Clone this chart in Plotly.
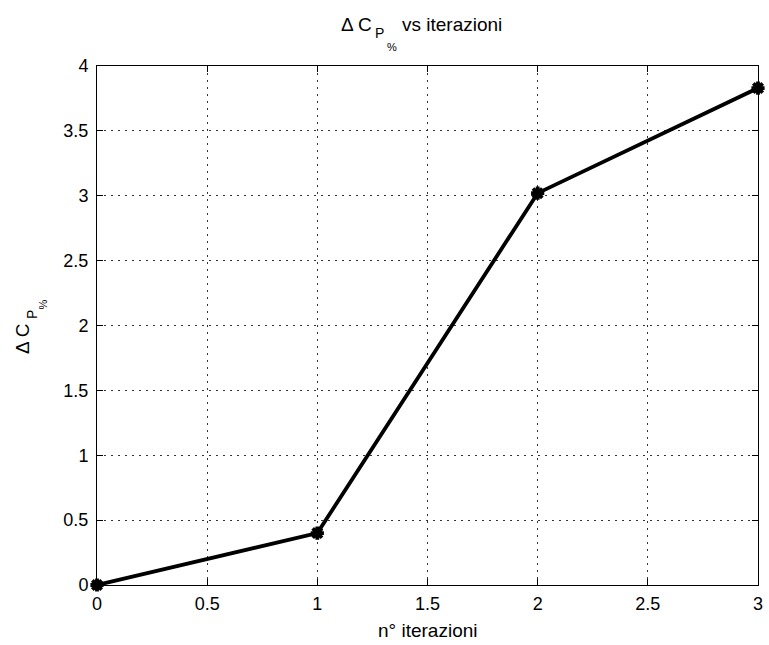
import plotly.graph_objects as go

# convergence of the power coefficient gain over iterations
iterations = [0, 1, 2, 3]
delta_cp = [0.0, 0.40, 3.02, 3.83]

x_ticks = [0, 0.5, 1, 1.5, 2, 2.5, 3]
y_ticks = [0, 0.5, 1, 1.5, 2, 2.5, 3, 3.5, 4]

FAMILY = "Liberation Sans, Arial, sans-serif"
tick_font = dict(family=FAMILY, size=18, color="black")
label_font = dict(family=FAMILY, size=19, color="black")

# plot-area geometry in pixels (used to place the composed labels)
W, H = 769, 645
L, R, T, B = 97, 6, 66, 60
PW, PH = W - L - R, H - T - B


def px(xp):
    return (xp - L) / PW


def py(yp):
    return (H - B - yp) / PH


fig = go.Figure()
fig.add_trace(go.Scatter(
    x=iterations, y=delta_cp, mode="lines+markers",
    line=dict(color="black", width=3.8),
    marker=dict(symbol="asterisk", size=11, color="black",
                line=dict(color="black", width=3.8)),
    showlegend=False, cliponaxis=False,
))

axis_common = dict(
    showline=True, mirror="ticks", linecolor="black", linewidth=1,
    ticks="inside", ticklen=6, tickcolor="black",
    showgrid=True, gridcolor="#333333", griddash="2px,5px", gridwidth=1,
    zeroline=False, tickfont=tick_font,
)

fig.update_xaxes(range=[0, 3], tickvals=x_ticks,
                 ticktext=[f"{v:g}" for v in x_ticks],
                 ticklabelstandoff=2,
                 **axis_common)
fig.update_yaxes(range=[0, 4], tickvals=y_ticks,
                 ticktext=[f"{v:g}" for v in y_ticks],
                 ticklabelstandoff=4,
                 **axis_common)


def note(text, x, y, size, xanchor="left", yanchor="middle", angle=0):
    fig.add_annotation(text=text, x=px(x), y=py(y), xref="paper", yref="paper",
                       xanchor=xanchor, yanchor=yanchor, textangle=angle,
                       showarrow=False,
                       font=dict(family=FAMILY, size=size, color="black"))


# title: Δ C_P_% vs iterazioni
note("Δ C", 376, 25, 19, xanchor="right")
note("P", 375, 33, 14)
note("%", 387, 47, 11)
note("vs iterazioni", 402, 25, 19)

# x-axis label
note("n° iterazioni", 430, 630, 19, xanchor="center")

# y-axis label (rotated)
note("Δ C", 22, 356, 19, xanchor="center", yanchor="bottom", angle=-90)
note("P", 31, 321, 14, xanchor="center", yanchor="bottom", angle=-90)
note("%", 43, 311, 11, xanchor="center", yanchor="bottom", angle=-90)

fig.update_layout(
    width=W, height=H,
    margin=dict(l=L, r=R, t=T, b=B),
    paper_bgcolor="white", plot_bgcolor="white",
    font=label_font,
)

fig.write_html("out.html")
